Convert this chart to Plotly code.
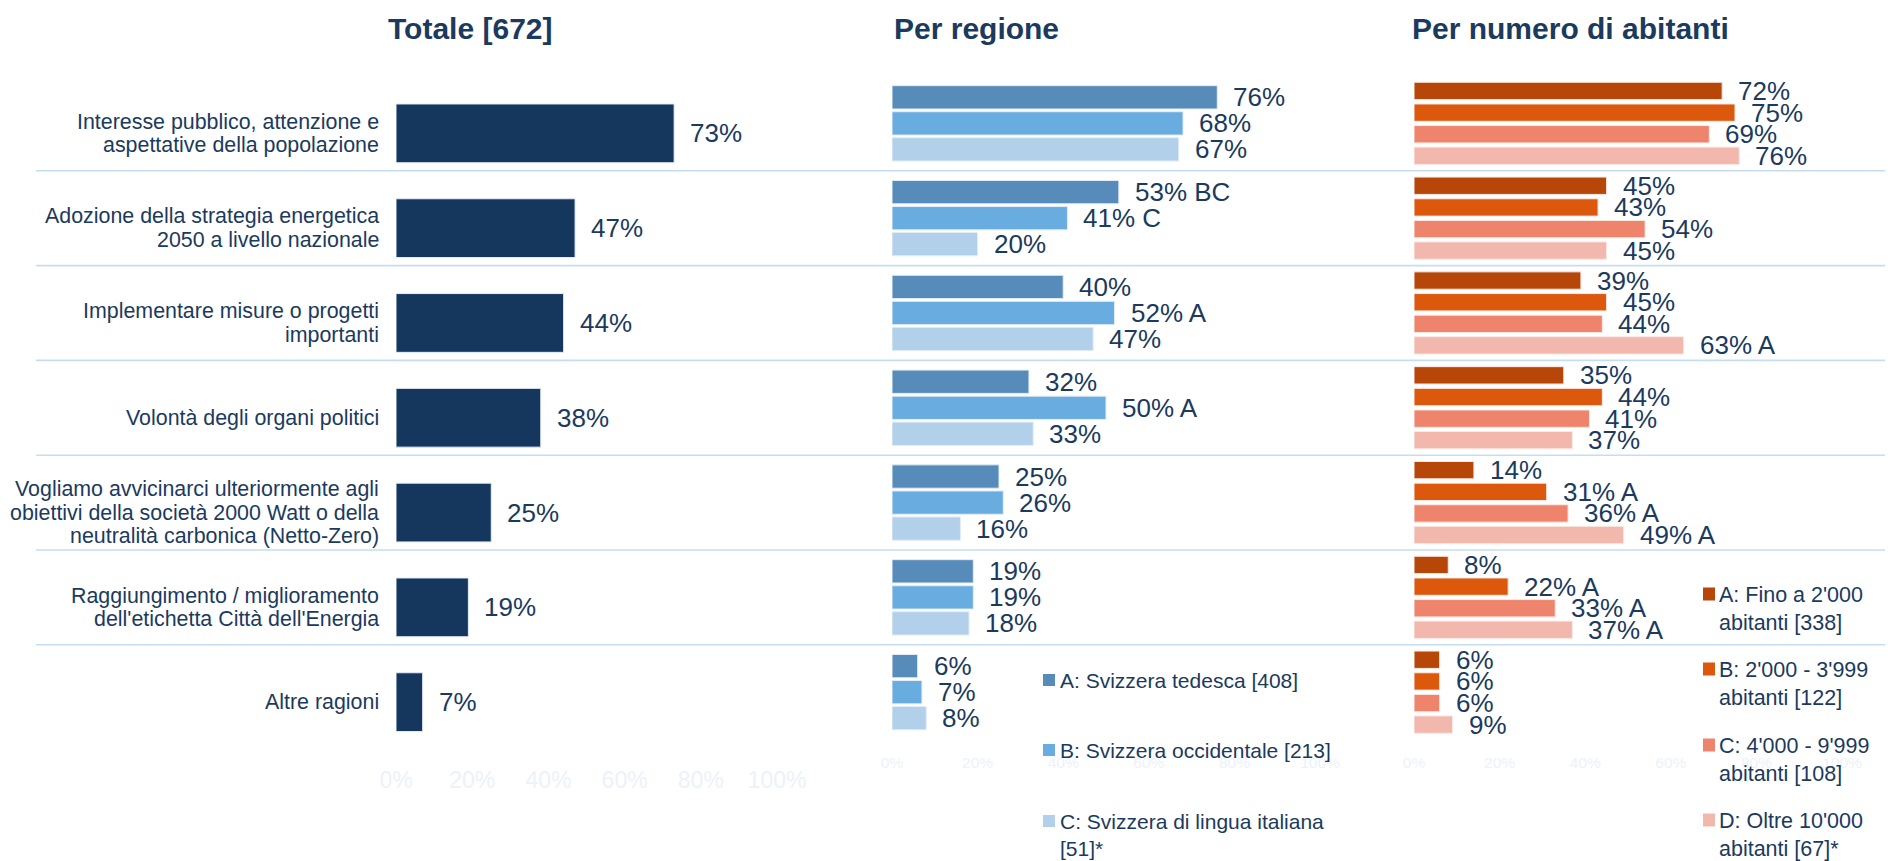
import plotly.graph_objects as go

W, H = 1893, 861

# ---------------- data ----------------
categories = [
    "Interesse pubblico, attenzione e<br>aspettative della popolazione",
    "Adozione della strategia energetica<br>2050 a livello nazionale",
    "Implementare misure o progetti<br>importanti",
    "Volontà degli organi politici",
    "Vogliamo avvicinarci ulteriormente agli<br>obiettivi della società 2000 Watt o della<br>neutralità carbonica (Netto-Zero)",
    "Raggiungimento / miglioramento<br>dell'etichetta Città dell'Energia",
    "Altre ragioni",
]
totale = [73, 47, 44, 38, 25, 19, 7]

region_names = ["A: Svizzera tedesca [408]", "B: Svizzera occidentale [213]",
                "C: Svizzera di lingua italiana<br>[51]*"]
region_A = [76, 53, 40, 32, 25, 19, 6]
region_B = [68, 41, 52, 50, 26, 19, 7]
region_C = [67, 20, 47, 33, 16, 18, 8]
region_A_sig = ["", "BC", "", "", "", "", ""]
region_B_sig = ["", "C", "A", "A", "", "", ""]
region_C_sig = ["", "", "", "", "", "", ""]

abit_names = ["A: Fino a 2'000<br>abitanti [338]", "B: 2'000 - 3'999<br>abitanti [122]",
              "C: 4'000 - 9'999<br>abitanti [108]", "D: Oltre 10'000<br>abitanti [67]*"]
abit_A = [72, 45, 39, 35, 14, 8, 6]
abit_B = [75, 43, 45, 44, 31, 22, 6]
abit_C = [69, 54, 44, 41, 36, 33, 6]
abit_D = [76, 45, 63, 37, 49, 37, 9]
abit_A_sig = ["", "", "", "", "", "", ""]
abit_B_sig = ["", "", "", "", "A", "A", ""]
abit_C_sig = ["", "", "", "", "A", "A", ""]
abit_D_sig = ["", "", "A", "", "A", "A", ""]

tick_vals = [0, 20, 40, 60, 80, 100]
tick_text = ["0%", "20%", "40%", "60%", "80%", "100%"]

titles = ["Totale [672]", "Per regione", "Per numero di abitanti"]

# ---------------- style ----------------
FONT = "Liberation Sans, Arial, sans-serif"
NAVY = "#1b3a5e"
TOT_COLOR = "#15375d"
REG_COLORS = ["#578cba", "#69ade0", "#b3d0eb"]
ABIT_COLORS = ["#b74609", "#dc580d", "#ee846b", "#f3b8ad"]
TICK_COLOR = "#ecf2f9"
SEP_COLOR = "#c6ddf1"
EDGE = "#e4edf6"

PAGE_OFF = 8  # page body margin


def px(x):
    return (x - PAGE_OFF) / W


def py(y):
    return 1 - (y - PAGE_OFF) / H


rows = list(range(len(categories)))
y_dom = [py(739.6), py(76.0)]

fig = go.Figure()

# Totale panel
tot_off, tot_w = -0.205, 0.62
fig.add_trace(go.Bar(x=totale, y=rows, orientation="h", xaxis="x", yaxis="y",
                     offset=tot_off, width=tot_w, marker_color=TOT_COLOR,
                     marker_line=dict(color=EDGE, width=1), showlegend=False,
                     hoverinfo="skip"))

# Region panel
reg_vals = [region_A, region_B, region_C]
reg_sigs = [region_A_sig, region_B_sig, region_C_sig]
reg_offs = [-0.398, -0.123, 0.151]
reg_w = 0.246
for vals, col, off in zip(reg_vals, REG_COLORS, reg_offs):
    fig.add_trace(go.Bar(x=vals, y=rows, orientation="h", xaxis="x2", yaxis="y2",
                         offset=off, width=reg_w, marker_color=col,
                         marker_line=dict(color=EDGE, width=1), showlegend=False,
                         hoverinfo="skip"))

# Abitanti panel
ab_vals = [abit_A, abit_B, abit_C, abit_D]
ab_sigs = [abit_A_sig, abit_B_sig, abit_C_sig, abit_D_sig]
ab_offs = [-0.434, -0.205, 0.023, 0.25]
ab_w = 0.183
for vals, col, off in zip(ab_vals, ABIT_COLORS, ab_offs):
    fig.add_trace(go.Bar(x=vals, y=rows, orientation="h", xaxis="x3", yaxis="y3",
                         offset=off, width=ab_w, marker_color=col,
                         marker_line=dict(color="#fbe9e4", width=1), showlegend=False,
                         hoverinfo="skip"))

annotations = []


def val_label(xref, yref, x, y, txt):
    annotations.append(dict(xref=xref, yref=yref, x=x, y=y, text=txt, showarrow=False,
                            xanchor="left", yanchor="middle", xshift=14,
                            font=dict(family=FONT, size=26, color=NAVY)))


for i, v in enumerate(totale):
    val_label("x", "y", v, i + tot_off + tot_w / 2, f"{v}%")

for vals, sigs, off in zip(reg_vals, reg_sigs, reg_offs):
    for i, v in enumerate(vals):
        t = f"{v}%" + (f" {sigs[i]}" if sigs[i] else "")
        val_label("x2", "y2", v, i + off + reg_w / 2, t)

for vals, sigs, off in zip(ab_vals, ab_sigs, ab_offs):
    for i, v in enumerate(vals):
        t = f"{v}%" + (f" {sigs[i]}" if sigs[i] else "")
        val_label("x3", "y3", v, i + off + ab_w / 2, t)

# Category labels (one annotation per line for tight line spacing)
LINE_H = 23.5
for i, cat in enumerate(categories):
    lines = cat.split("<br>")
    n = len(lines)
    for k, ln in enumerate(lines):
        annotations.append(dict(xref="paper", yref="y", x=px(381), y=i + tot_off + tot_w / 2,
                                yshift=-(k - (n - 1) / 2) * LINE_H, text=ln, showarrow=False,
                                xanchor="right", yanchor="middle",
                                font=dict(family=FONT, size=21.4, color=NAVY)))

# Titles
annotations.append(dict(xref="paper", yref="paper", x=px(470.5), y=py(28), text=f"<b>{titles[0]}</b>",
                        showarrow=False, xanchor="center", yanchor="middle",
                        font=dict(family=FONT, size=30, color=NAVY)))
annotations.append(dict(xref="paper", yref="paper", x=px(892), y=py(28), text=f"<b>{titles[1]}</b>",
                        showarrow=False, xanchor="left", yanchor="middle",
                        font=dict(family=FONT, size=30, color=NAVY)))
annotations.append(dict(xref="paper", yref="paper", x=px(1410), y=py(28), text=f"<b>{titles[2]}</b>",
                        showarrow=False, xanchor="left", yanchor="middle",
                        font=dict(family=FONT, size=30, color=NAVY)))

shapes = []
# Separators between rows
for i in range(len(categories) - 1):
    shapes.append(dict(type="line", xref="paper", yref="y2", x0=px(36), x1=px(1886),
                       y0=i + 0.5, y1=i + 0.5, line=dict(color=SEP_COLOR, width=1.6)))

# Legends (drawn as squares + text)
reg_leg_y = [680, 750, 821]
for name, col, cy in zip(region_names, REG_COLORS, reg_leg_y):
    shapes.append(dict(type="rect", xref="paper", yref="paper", x0=px(1043), x1=px(1055),
                       y0=py(cy + 6), y1=py(cy - 6), fillcolor=col, line=dict(width=0)))
    annotations.append(dict(xref="paper", yref="paper", x=px(1058), y=py(cy - 13.5), text=name,
                            showarrow=False, xanchor="left", yanchor="top", align="left",
                            font=dict(family=FONT, size=21, color=NAVY)))

ab_leg_y = [594, 669, 745, 820]
for name, col, cy in zip(abit_names, ABIT_COLORS, ab_leg_y):
    shapes.append(dict(type="rect", xref="paper", yref="paper", x0=px(1703), x1=px(1715),
                       y0=py(cy + 6.5), y1=py(cy - 6.5), fillcolor=col, line=dict(width=0)))
    annotations.append(dict(xref="paper", yref="paper", x=px(1717), y=py(cy - 13.5), text=name,
                            showarrow=False, xanchor="left", yanchor="top", align="left",
                            font=dict(family=FONT, size=21.5, color=NAVY)))


def xaxis(dom, fsize, standoff):
    return dict(domain=dom, range=[0, 100], tickvals=tick_vals, ticktext=tick_text,
                showgrid=False, zeroline=False, showline=False, ticks="",
                ticklabelstandoff=standoff, automargin=False,
                tickfont=dict(family=FONT, size=fsize, color=TICK_COLOR), fixedrange=True)


def yaxis(anchor):
    return dict(domain=y_dom, range=[len(categories) - 0.5, -0.5], visible=False,
                fixedrange=True, anchor=anchor, automargin=False)


fig.update_layout(
    width=W, height=H,
    margin=dict(l=0, r=0, t=0, b=0, pad=0, autoexpand=False),
    paper_bgcolor="white", plot_bgcolor="rgba(0,0,0,0)",
    barmode="overlay",
    showlegend=False,
    xaxis=dict(**xaxis([px(396), px(777)], 23, 24), anchor="y"),
    xaxis2=dict(**xaxis([px(892), px(1320)], 15.5, 12), anchor="y2"),
    xaxis3=dict(**xaxis([px(1414), px(1842)], 15.5, 12), anchor="y3"),
    yaxis=yaxis("x"),
    yaxis2=yaxis("x2"),
    yaxis3=yaxis("x3"),
    annotations=annotations,
    shapes=shapes,
)

for tr in fig.data:
    tr.cliponaxis = False

fig.write_html("out.html")
